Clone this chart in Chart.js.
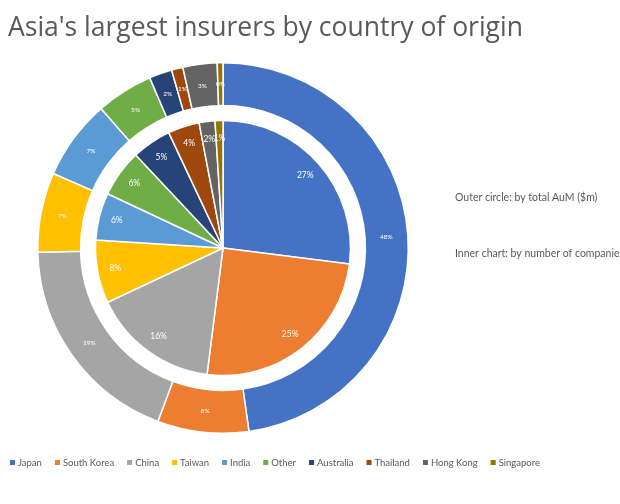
<!DOCTYPE html>
<html><head><meta charset="utf-8">
<script src="https://cdn.jsdelivr.net/npm/chart.js"></script>
<style>
body{margin:0;background:#fff;}
#wrap{position:relative;width:620px;height:504px;}
</style></head>
<body><div id="wrap"><canvas id="c" width="620" height="504"></canvas></div>
<script>
const countries = ["Japan","South Korea","China","Taiwan","India","Other","Australia","Thailand","Hong Kong","Singapore"];
const outerAum = [48, 8, 19, 7, 7, 5, 2, 1, 3, 0.5];
const innerCount = [27, 25, 16, 8, 6, 6, 5, 4, 2, 1];
const colors = ["#4472C4","#ED7D31","#A5A5A5","#FFC000","#5B9BD5","#70AD47","#264478","#9E480E","#636363","#997300"];

const textColor = "#595959";

// подписи процентов и легенда, рисуем сами
const labelsPlugin = {
  id: "labels",
  afterDatasetsDraw(chart) {
    const ctx = chart.ctx;
    ctx.save();
    ctx.textAlign = "center";
    ctx.textBaseline = "middle";
    ctx.fillStyle = "#fff";
    [0, 2].forEach(di => {
      const meta = chart.getDatasetMeta(di);
      const vals = chart.data.datasets[di].data;
      const total = vals.reduce((a, b) => a + b, 0);
      meta.data.forEach((arc, i) => {
        const p = arc.getProps(["x","y","startAngle","endAngle","innerRadius","outerRadius"], true);
        const a = (p.startAngle + p.endAngle) / 2;
        const r = di === 2 ? p.outerRadius * 0.86 : (p.innerRadius + p.outerRadius) / 2;
        ctx.font = (di === 2 ? "8.5px" : "6.5px") + " Lato, sans-serif";
        ctx.fillText(Math.round(vals[i] / total * 100) + "%", p.x + r * Math.cos(a), p.y + r * Math.sin(a));
      });
    });
    // заголовок
    ctx.textAlign = "left";
    ctx.textBaseline = "alphabetic";
    ctx.fillStyle = textColor;
    ctx.font = "26.5px 'Open Sans', sans-serif";
    ctx.fillText("Asia's largest insurers by country of origin", 8, 36);
    ctx.font = "10.5px Lato, sans-serif";
    ctx.fillText("Outer circle: by total AuM ($m)", 455, 201);
    ctx.fillText("Inner chart: by number of companies", 455, 257);
    // легенда
    ctx.font = "9.5px Lato, sans-serif";
    ctx.textBaseline = "middle";
    let x = 10;
    countries.forEach((c, i) => {
      ctx.fillStyle = colors[i];
      ctx.fillRect(x, 460, 5, 5);
      ctx.fillStyle = textColor;
      ctx.fillText(c, x + 8, 463);
      x += 8 + ctx.measureText(c).width + 13;
    });
    ctx.restore();
  }
};

new Chart(document.getElementById("c"), {
  type: "doughnut",
  data: {
    labels: countries,
    datasets: [
      { data: outerAum, backgroundColor: colors, borderColor: "#fff", borderWidth: 1.5, weight: 43 },
      { data: [1], backgroundColor: "rgba(0,0,0,0)", borderWidth: 0, weight: 15 },
      { data: innerCount, backgroundColor: colors, borderColor: "#fff", borderWidth: 1.5, weight: 128 }
    ]
  },
  options: {
    responsive: false,
    animation: false,
    cutout: 0,
    layout: { padding: { left: 37, right: 211, top: 62, bottom: 70 } },
    plugins: { legend: { display: false }, tooltip: { enabled: false } }
  },
  plugins: [labelsPlugin]
});
</script></body></html>
